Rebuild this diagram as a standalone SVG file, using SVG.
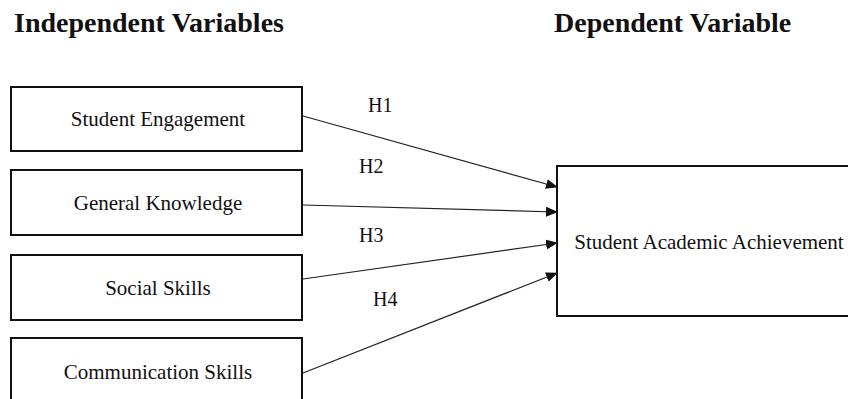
<svg xmlns="http://www.w3.org/2000/svg" width="848" height="399" viewBox="0 0 848 399">
<style>
.box{fill:#fff;stroke:#111;stroke-width:2}
.t{font-family:"Liberation Serif","Times New Roman",serif;fill:#111}
.lbl{font-size:21px;text-anchor:middle}
.h{font-size:20px}
.title{font-size:28px;font-weight:bold}
.c{stroke:#222;stroke-width:1.2;fill:none;marker-end:url(#ah)}
</style>
<defs>
<marker id="ah" markerWidth="12" markerHeight="10" refX="11" refY="5" orient="auto" markerUnits="userSpaceOnUse">
<path d="M0,0 L12,5 L0,10 Z" fill="#111"/>
</marker>
</defs>
<rect width="848" height="399" fill="#fff"/>
<text class="t title" x="14" y="32">Independent Variables</text>
<text class="t title" x="554" y="32">Dependent Variable</text>
<g id="n1"><rect class="box" x="11" y="87" width="291" height="64"/><text class="t lbl" x="158" y="126">Student Engagement</text></g>
<g id="n2"><rect class="box" x="11" y="170" width="291" height="65"/><text class="t lbl" x="158" y="210">General Knowledge</text></g>
<g id="n3"><rect class="box" x="11" y="255" width="291" height="65"/><text class="t lbl" x="158" y="295">Social Skills</text></g>
<g id="n4"><rect class="box" x="11" y="338" width="291" height="70"/><text class="t lbl" x="158" y="379">Communication Skills</text></g>
<g id="n5"><rect class="box" x="557" y="166" width="300" height="150"/><text class="t lbl" x="709" y="249">Student Academic Achievement</text></g>
<g id="connectors">
<line class="c" x1="303" y1="116" x2="557" y2="187"/>
<line class="c" x1="303" y1="205" x2="557" y2="212"/>
<line class="c" x1="303" y1="279" x2="557" y2="243"/>
<line class="c" x1="303" y1="373" x2="557" y2="273"/>
<text class="t h" x="368" y="112">H1</text>
<text class="t h" x="359" y="173">H2</text>
<text class="t h" x="359" y="242">H3</text>
<text class="t h" x="373" y="306">H4</text>
</g>
</svg>
